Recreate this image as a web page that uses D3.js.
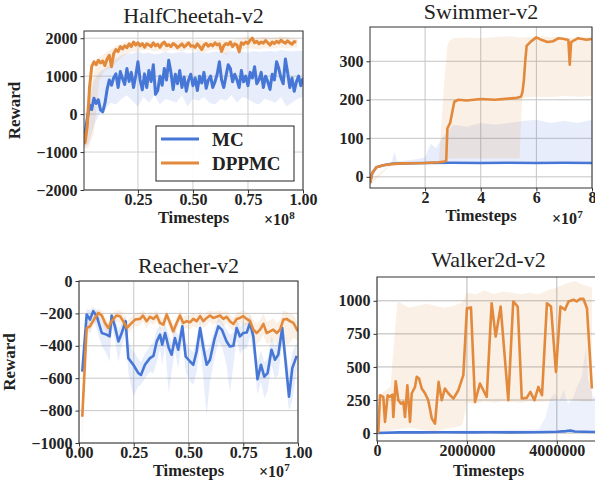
<!DOCTYPE html>
<html>
<head>
<meta charset="utf-8">
<script src="https://cdn.jsdelivr.net/npm/d3@7"></script>
<style>
  body { margin: 0; background: #fff; }
  text { font-family: "Liberation Serif", "Times New Roman", serif; }
</style>
</head>
<body>
<svg id="chart" width="595" height="480"></svg>
<script>
// ---- HalfCheetah-v2 (timesteps x1e8, logged every 0.01) ----
const hcStep = 0.01;
const hcMC = [-800,-500,-120,240,120,420,280,380,110,60,
  280,650,900,760,960,1060,700,1120,940,780,
  1200,860,1100,700,1010,1380,900,640,1060,700,
  1150,860,1300,520,620,1000,760,1200,900,1420,
  1100,650,1050,800,1150,700,980,600,900,1050,
  750,950,620,1000,820,1100,680,900,1000,700,
  850,1050,1380,900,700,1000,1300,1200,850,1050,
  900,700,1150,850,1000,750,1100,950,1250,800,
  900,1100,700,1000,850,650,1050,900,1380,1200,
  950,800,1450,1100,700,950,600,850,1000,750,
  950];
const hcDP = [-500,-750,-300,700,1250,1380,1300,1420,1350,1400,
  1280,1450,1550,1250,1600,1700,1650,1780,1720,1800,
  1750,1850,1780,1900,1820,1880,1800,1860,1760,1850,
  1820,1780,1880,1800,1840,1760,1850,1900,1800,1830,
  1780,1860,1820,1750,1800,1850,1770,1820,1880,1790,
  1800,1760,1850,1780,1700,1820,1860,1790,1840,1800,
  1880,1820,1850,1650,1800,1860,1830,1900,1780,1850,
  1820,1640,1880,1840,1900,1860,1950,2000,1880,1920,
  1850,1900,1870,1940,1880,1820,1900,1860,1920,1880,
  1950,1900,1870,1930,1880,1840,1910,1900];
// shaded spread, logged every 0.025
const hcBandStep = 0.025;
const hcMCHi = [-600,300,900,1100,1200,1350,1450,1550,1600,1600,1650,1600,1620,1580,1600,1650,1600,1620,1640,1600,
  1620,1650,1600,1620,1650,1640,1620,1660,1640,1650,1620,1660,1640,1650,1660,1640,1680,1660,1650,1670,1660];
const hcMCLo = [-900,-800,-300,0,100,300,250,400,500,350,200,450,300,500,250,400,350,300,500,200,
  400,350,450,300,250,400,350,500,300,450,400,300,250,400,350,300,450,200,300,400,450];
const hcDPHi = [-300,500,1100,1500,1600,1700,1800,1850,1900,1900,1920,1900,1930,1900,1920,1900,1920,1930,1950,1920,
  1940,1950,1930,1940,1960,1950,1940,1960,1980,2000,2050,2000,2020,2030,2000,2020,2050,2030,2000,1980];
const hcDPLo = [-900,-900,-500,900,1150,1200,1350,1500,1600,1650,1650,1680,1700,1650,1680,1650,1700,1680,1650,1700,
  1680,1650,1600,1680,1700,1680,1550,1700,1720,1700,1750,1720,1700,1750,1720,1740,1760,1740,1750,1760];

// ---- Swimmer-v2 (timesteps x1e7) ----
const swMCT = [0.02,0.1,0.25,0.5,0.8,1.2,2,3,4,5,6,7,8];
const swMC = [-16,10,25,30,34,35,36,36.5,36,36.5,36,36.5,36];
const swMCBandT = [0.02,0.25,0.8,0.9,1.0,1.5,2.0,2.2,2.4,2.6,2.8,3.0,3.5,4.0,4.5,5.0,5.5,6.0,6.5,7.0,7.5,8.0];
const swMCHi = [-10,28,38,65,40,44,50,85,75,100,115,135,130,140,135,140,145,148,140,145,140,148];
const swMCLo = [-22,22,31,32,32,33,33,33,33,33,33,33,33,33,33,33,33,33,33,33,33,33];
const swDPT = [0.02,0.1,0.25,0.5,0.8,1.2,2.0,2.5,2.7,2.76,2.8,2.9,2.95,3.05,3.2,3.5,4.0,4.5,5.0,5.3,
  5.45,5.5,5.55,5.6,5.65,5.8,6.0,6.2,6.4,6.6,6.8,7.0,7.15,7.2,7.25,7.5,7.8,8.0];
const swDP = [-16,10,25,30,33,35,36,38,40,42,125,140,158,195,200,198,202,200,203,205,
  208,220,250,300,340,351,362,355,350,352,360,358,355,291,350,360,356,358];
const swDPBandT = [0.02,0.8,2.0,2.5,2.6,2.7,2.8,2.9,3.0,3.5,4.0,4.5,5.0,5.4,5.45,5.5,6.0,6.5,7.0,7.5,8.0];
const swDPHi = [-10,35,38,42,150,260,340,355,360,362,360,363,365,362,362,362,365,363,362,360,365];
const swDPLo = [-22,32,34,36,38,40,45,48,48,48,48,48,48,48,150,205,208,207,210,208,210];

// ---- Reacher-v2 (timesteps x1e7) ----
const rcMCT = [0.015,0.035,0.05,0.065,0.081,0.104,0.126,0.14,0.149,0.164,0.18,0.195,0.213,0.225,0.248,
  0.271,0.283,0.301,0.324,0.34,0.355,0.37,0.38,0.393,0.41,0.423,0.438,0.453,0.472,0.487,
  0.507,0.522,0.537,0.553,0.568,0.583,0.598,0.618,0.636,0.652,0.674,0.689,0.705,0.72,0.735,
  0.75,0.766,0.781,0.796,0.815,0.831,0.846,0.861,0.879,0.895,0.91,0.928,0.944,0.959,0.974,0.994];
const rcMC = [-559,-207,-238,-186,-217,-321,-331,-342,-213,-280,-373,-321,-248,-476,-517,
  -569,-580,-517,-476,-462,-373,-331,-393,-321,-414,-455,-352,-424,-280,-466,
  -497,-517,-435,-290,-414,-517,-486,-362,-280,-300,-373,-404,-400,-290,-342,
  -321,-318,-259,-342,-606,-517,-590,-569,-424,-486,-455,-290,-507,-714,-538,-462];
const rcMCHi = [-500,-170,-180,-160,-180,-250,-280,-290,-200,-230,-300,-260,-210,-380,-430,
  -480,-500,-450,-400,-380,-300,-280,-320,-260,-330,-380,-290,-340,-230,-380,
  -420,-440,-360,-240,-340,-430,-400,-300,-230,-250,-300,-330,-320,-240,-280,
  -260,-260,-210,-280,-500,-430,-500,-480,-340,-400,-380,-240,-420,-560,-440,-380];
const rcMCLo = [-600,-260,-330,-230,-300,-400,-450,-500,-280,-360,-500,-400,-320,-560,-714,
  -650,-640,-600,-560,-569,-500,-420,-520,-400,-693,-560,-430,-540,-360,-560,
  -620,-640,-560,-400,-600,-828,-620,-480,-380,-400,-520,-693,-520,-360,-450,
  -420,-420,-340,-450,-700,-620,-724,-680,-520,-600,-580,-380,-620,-800,-735,-560];
const rcDPT = [0.015,0.035,0.05,0.073,0.088,0.104,0.119,0.134,0.149,0.171,0.187,0.202,0.218,0.233,0.256,
  0.279,0.292,0.309,0.324,0.34,0.355,0.37,0.385,0.4,0.416,0.43,0.446,0.461,0.476,0.492,
  0.507,0.522,0.537,0.553,0.568,0.583,0.598,0.613,0.629,0.644,0.659,0.674,0.689,0.705,0.72,
  0.735,0.75,0.766,0.781,0.796,0.811,0.827,0.842,0.857,0.872,0.887,0.903,0.918,0.933,0.948,
  0.963,0.979,1.0];
const rcDP = [-838,-290,-280,-228,-197,-213,-259,-290,-248,-213,-217,-248,-290,-269,-238,
  -234,-213,-248,-221,-234,-213,-259,-269,-207,-259,-311,-259,-213,-259,-248,
  -255,-234,-248,-217,-248,-228,-213,-228,-221,-213,-234,-221,-248,-265,-234,
  -228,-217,-234,-248,-300,-321,-300,-265,-321,-311,-300,-321,-300,-238,-234,
  -248,-259,-311];
const rcDPHi = [-700,-260,-240,-190,-170,-180,-220,-250,-210,-180,-180,-200,-250,-230,-200,
  -195,-180,-210,-190,-200,-180,-220,-230,-180,-220,-270,-220,-180,-220,-210,
  -215,-195,-210,-185,-210,-190,-180,-190,-185,-180,-195,-185,-210,-225,-195,
  -190,-180,-195,-200,-240,-260,-240,-200,-250,-240,-230,-260,-240,-180,-190,
  -200,-210,-260];
const rcDPLo = [-1000,-320,-310,-260,-230,-250,-300,-330,-290,-250,-260,-290,-330,-310,-280,
  -275,-250,-290,-260,-270,-250,-300,-310,-250,-300,-350,-300,-250,-300,-290,
  -300,-280,-290,-260,-290,-270,-250,-270,-260,-250,-280,-260,-290,-310,-280,
  -270,-260,-280,-300,-370,-390,-370,-330,-390,-380,-370,-390,-380,-320,-400,
  -380,-350,-370];

// ---- Walker2d-v2 (raw timesteps) ----
const wkMCT = [0,500000,1000000,1500000,2000000,2500000,3000000,3500000,3800000,4000000,4200000,4300000,4400000,4600000,4950000];
const wkMC = [0,5,5,6,5,6,5,6,8,10,15,20,12,10,8];
const wkMCBandT = [0,1000000,2000000,3000000,3600000,3750000,3850000,3950000,4050000,4150000,4250000,4350000,4450000,4550000,4650000,4700000,4800000,4950000];
const wkMCHi = [0,15,20,25,30,120,260,300,240,330,220,260,350,420,650,400,280,260];
const wkMCLo = [0,0,0,0,0,0,0,0,0,0,0,0,0,0,0,0,0,0];
const wkDPT = [0,29000,67000,140000,178000,238000,290000,341000,363000,416000,
  474000,534000,586000,623000,675000,734000,772000,846000,883000,935000,
  995000,1070000,1140000,1220000,1290000,1370000,1440000,1510000,1590000,1700000,
  1810000,1920000,2000000,2090000,2180000,2290000,2440000,2550000,2640000,2750000,
  2920000,3030000,3130000,3220000,3330000,3410000,3500000,3590000,3670000,3780000,
  3870000,3980000,4080000,4180000,4260000,4370000,4440000,4520000,4590000,4670000,4780000];
const wkDP = [0,8,286,273,84,286,273,291,121,392,
  248,223,235,121,362,84,299,349,425,412,
  337,299,248,109,71,387,248,337,299,261,
  324,438,944,950,235,375,273,982,729,957,
  248,995,957,261,266,311,248,349,286,982,
  957,463,957,932,995,1008,995,1015,1015,944,337];
const wkDPBandT = [0,100000,300000,450000,500000,700000,900000,1100000,1300000,1500000,1700000,1900000,2000000,
  2200000,2400000,2600000,2800000,3000000,3200000,3400000,3600000,3800000,4000000,4200000,4400000,4600000,4780000];
const wkDPHi = [0,300,350,990,990,950,960,980,960,950,960,990,1060,1050,1080,1050,1070,1060,1050,1060,1050,1080,1100,1130,1150,1120,1100];
const wkDPLo = [0,0,20,30,30,40,30,20,10,30,40,60,230,220,240,230,240,235,230,240,235,240,250,260,250,240,240];

const legendNames = ["MC", "DPPMC"];
const blue = "#4677d6", orange = "#e2893b";

const svg = d3.select("#chart");
const serif = '"Liberation Serif", "Times New Roman", serif';

function stepX(arr, step) { return arr.map((d, i) => i * step); }

function panel(p) {
  const x = d3.scaleLinear().domain(p.xDomain).range(p.xRange);
  const y = d3.scaleLinear().domain(p.yDomain).range(p.yRange);
  const [left, right] = p.xRange;
  const [bottom, top] = p.yRange;
  const g = svg.append("g");

  svg.append("clipPath").attr("id", "clip-" + p.key)
    .append("rect").attr("x", left).attr("y", top)
    .attr("width", right - left).attr("height", bottom - top);

  // grid
  g.append("g").selectAll("line").data(p.yTicks).join("line")
    .attr("x1", left).attr("x2", right)
    .attr("y1", d => y(d)).attr("y2", d => y(d))
    .attr("stroke", p.grid).attr("stroke-width", 1);
  g.append("g").selectAll("line").data(p.xTicks).join("line")
    .attr("x1", d => x(d)).attr("x2", d => x(d))
    .attr("y1", top).attr("y2", bottom)
    .attr("stroke", p.grid).attr("stroke-width", 1);

  const plot = g.append("g").attr("clip-path", `url(#clip-${p.key})`);

  // shaded spread
  p.bands.forEach(b => {
    const area = d3.area()
      .x((d, i) => x(b.t[i]))
      .y0((d, i) => y(b.lo[i]))
      .y1((d, i) => y(b.hi[i]));
    plot.append("path").datum(b.lo)
      .attr("d", area)
      .attr("fill", b.color)
      .attr("fill-opacity", b.alpha || 0.13);
  });

  // mean curves
  p.lines.forEach(s => {
    const line = d3.line().x((d, i) => x(s.t[i])).y(d => y(d));
    plot.append("path").datum(s.v)
      .attr("d", line)
      .attr("fill", "none")
      .attr("stroke", s.color)
      .attr("stroke-width", p.lw || 2.6)
      .attr("stroke-linejoin", "round");
  });

  // frame
  g.append("rect")
    .attr("x", left).attr("y", top)
    .attr("width", right - left).attr("height", bottom - top)
    .attr("fill", "none").attr("stroke", "#333").attr("stroke-width", 1);

  // axes
  const xa = g.append("g").attr("transform", `translate(0,${bottom})`)
    .call(d3.axisBottom(x).tickValues(p.xTicks).tickFormat(p.xFormat).tickSize(3.5).tickPadding(0.5));
  const ya = g.append("g").attr("transform", `translate(${left},0)`)
    .call(d3.axisLeft(y).tickValues(p.yTicks).tickFormat(p.yFormat).tickSize(3.5).tickPadding(3));
  [xa, ya].forEach(a => {
    a.select(".domain").remove();
    a.attr("font-family", serif).attr("font-size", 16).attr("font-weight", "bold");
    a.selectAll("line").attr("stroke", "#333");
    a.selectAll("text").attr("fill", "#222");
  });

  // title
  g.append("text").attr("x", (left + right) / 2).attr("y", p.titleY)
    .attr("text-anchor", "middle").attr("font-size", 22).attr("fill", "#222")
    .text(p.title);

  // x label
  g.append("text").attr("x", (left + right) / 2).attr("y", p.xLabelY)
    .attr("text-anchor", "middle").attr("font-size", 16.5).attr("font-weight", "bold").attr("fill", "#222")
    .text("Timesteps");

  if (p.yLabelX) {
    g.append("text")
      .attr("transform", `translate(${p.yLabelX},${(top + bottom) / 2}) rotate(-90)`)
      .attr("text-anchor", "middle").attr("font-size", 17).attr("font-weight", "bold").attr("fill", "#222")
      .text("Reward");
  }

  if (p.exp) {
    const t = g.append("text").attr("x", p.exp.x).attr("y", p.exp.y)
      .attr("font-size", 16).attr("font-weight", "bold").attr("fill", "#222");
    t.append("tspan").text("×10");
    t.append("tspan").attr("dy", -6).attr("font-size", 11).text(p.exp.n);
  }
  return { x, y, g };
}

panel({
  key: "hc", title: "HalfCheetah-v2", titleY: 23, lw: 3,
  xDomain: [0.005, 1.0], xRange: [84, 303],
  yDomain: [-2000, 2190], yRange: [190, 31],
  xTicks: [0.25, 0.5, 0.75, 1.0], xFormat: d3.format(".2f"),
  yTicks: [-2000, -1000, 0, 1000, 2000], yFormat: d3.format("d"),
  grid: "#cfcfcf", xLabelY: 223, yLabelX: 20,
  exp: { x: 264, y: 225, n: "8" },
  bands: [
    { t: stepX(hcMCHi, hcBandStep), lo: hcMCLo, hi: hcMCHi, color: blue },
    { t: stepX(hcDPHi, hcBandStep), lo: hcDPLo, hi: hcDPHi, color: orange }
  ],
  lines: [
    { t: stepX(hcMC, hcStep), v: hcMC, color: blue },
    { t: stepX(hcDP, hcStep), v: hcDP, color: orange }
  ]
});

panel({
  key: "sw", title: "Swimmer-v2", titleY: 19,
  xDomain: [0.02, 8], xRange: [370, 592],
  yDomain: [-29, 389], yRange: [188, 27],
  xTicks: [2, 4, 6, 8], xFormat: d3.format("d"),
  yTicks: [0, 100, 200, 300], yFormat: d3.format("d"),
  grid: "#c4c4c4", xLabelY: 221,
  exp: { x: 552, y: 224, n: "7" },
  bands: [
    { t: swMCBandT, lo: swMCLo, hi: swMCHi, color: blue },
    { t: swDPBandT, lo: swDPLo, hi: swDPHi, color: orange }
  ],
  lines: [
    { t: swMCT, v: swMC, color: blue },
    { t: swDPT, v: swDP, color: orange }
  ]
});

panel({
  key: "rc", title: "Reacher-v2", titleY: 273,
  xDomain: [0, 1], xRange: [79, 298],
  yDomain: [-1000, 0], yRange: [443, 281],
  xTicks: [0, 0.25, 0.5, 0.75, 1.0], xFormat: d3.format(".2f"),
  yTicks: [-1000, -800, -600, -400, -200, 0], yFormat: d3.format("d"),
  grid: "#c8c8c8", xLabelY: 476, yLabelX: 15,
  exp: { x: 259, y: 476.5, n: "7" },
  bands: [
    { t: rcMCT, lo: rcMCLo, hi: rcMCHi, color: blue },
    { t: rcDPT, lo: rcDPLo, hi: rcDPHi, color: orange }
  ],
  lines: [
    { t: rcMCT, v: rcMC, color: blue },
    { t: rcDPT, v: rcDP, color: orange }
  ]
});

panel({
  key: "wk", title: "Walker2d-v2", titleY: 267,
  xDomain: [0, 4960000], xRange: [377, 600],
  yDomain: [-60, 1180], yRange: [441, 277],
  xTicks: [0, 2000000, 4000000], xFormat: d3.format("d"),
  yTicks: [0, 250, 500, 750, 1000], yFormat: d3.format("d"),
  grid: "#b8b8b8", xLabelY: 476,
  bands: [
    { t: wkMCBandT, lo: wkMCLo, hi: wkMCHi, color: blue, alpha: 0.1 },
    { t: wkDPBandT, lo: wkDPLo, hi: wkDPHi, color: orange }
  ],
  lines: [
    { t: wkMCT, v: wkMC, color: blue },
    { t: wkDPT, v: wkDP, color: orange }
  ]
});

// legend in the HalfCheetah panel
const leg = svg.append("g").attr("transform", "translate(156,126)");
leg.append("rect").attr("width", 138).attr("height", 55)
  .attr("fill", "#fff").attr("fill-opacity", 0.9)
  .attr("stroke", "#222").attr("stroke-width", 1);
legendNames.forEach((name, i) => {
  const cy = 13 + i * 24;
  leg.append("line").attr("x1", 5).attr("x2", 43).attr("y1", cy).attr("y2", cy)
    .attr("stroke", i === 0 ? blue : orange).attr("stroke-width", 3);
  leg.append("text").attr("x", 56).attr("y", cy + 6.5)
    .attr("font-size", 19).attr("font-weight", "bold").attr("fill", "#222")
    .text(name);
});
</script>
</body>
</html>
